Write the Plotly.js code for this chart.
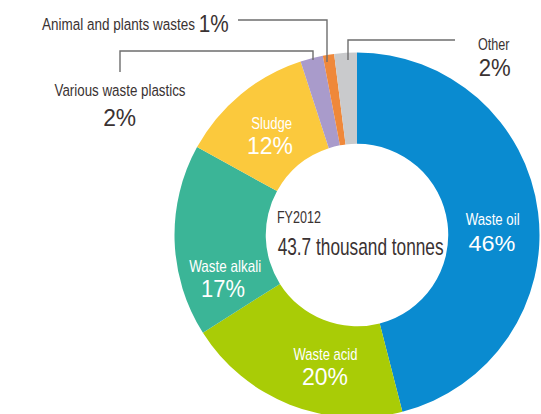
<!DOCTYPE html>
<html>
<head>
<meta charset="utf-8">
<script src="https://cdn.plot.ly/plotly-3.0.1.min.js"></script>
<style>
html,body{margin:0;padding:0;background:#fff;overflow:hidden;width:541px;height:414px;}
#chart{width:541px;height:420px;}
</style>
</head>
<body>
<div id="chart"></div>
<script>
const labels = ['Waste oil','Waste acid','Waste alkali','Sludge','Various waste plastics','Animal and plants wastes','Other'];
const values = [46,20,17,12,2,1,2];
const colors = ['#0a8bd0','#a9cc06','#3bb597','#fbc93d','#a99bcb','#ef883a','#c9cacc'];
const centerLine1 = 'FY2012';
const centerLine2 = '43.7 thousand tonnes';

const W = 541, H = 420;
const px = x => x / W;
const py = y => 1 - y / H;

const textFont = 'Liberation Sans, Arial, sans-serif';
const dark = '#3a3232';
const LBL = 16.5, PCT = 23;

const cx = 357, cy = 235, R = 182.5;

const trace = {
  type: 'pie',
  labels: labels,
  values: values,
  sort: false,
  direction: 'clockwise',
  rotation: 0,
  hole: 0.5,
  textinfo: 'none',
  hoverinfo: 'label+percent',
  marker: {colors: colors, line: {width: 0}},
  domain: {x: [px(cx - R), px(cx + R)], y: [py(cy + R), py(cy - R)]},
  showlegend: false
};

// text placement per slice (pixels): label centre + drawn width, percent centre + drawn width
const place = [
  {lx:492,   ly:219,   lw:54,  qx:491.5, qy:243.4, qw:47,   c:'#ffffff'},
  {lx:325,   ly:354,   lw:64,  qx:324.7, qy:377,   qw:46,   c:'#ffffff'},
  {lx:225,   ly:265.5, lw:72,  qx:223,   qy:289,   qw:44,   c:'#ffffff'},
  {lx:271.5, ly:123,   lw:41,  qx:270,   qy:146,   qw:46,   c:'#ffffff'},
  {lx:119.5, ly:90,    lw:131, qx:119.5, qy:118,   qw:33,   c:dark},
  {lx:118.5, ly:24,    lw:153, qx:213,   qy:24.3,  qw:30,   c:dark},
  {lx:494,   ly:44,    lw:32,  qx:494,   qy:67.5,  qw:32,   c:dark}
];

const annotations = [];
const widths = [];
function addText(text, x, y, size, color, w) {
  annotations.push({xref:'paper', yref:'paper', x:px(x), y:py(y), xanchor:'center', yanchor:'middle',
    showarrow:false, borderpad:0, text:text, font:{family:textFont, size:size, color:color}});
  widths.push(w);
}
labels.forEach((lab, i) => {
  const p = place[i];
  addText(lab, p.lx, p.ly, LBL, p.c, p.lw);
  addText(values[i] + '%', p.qx, p.qy, PCT, p.c, p.qw);
});
addText(centerLine1, 299, 217, LBL, dark, 44);
addText(centerLine2, 360, 246.5, PCT, dark, 166);

const lineStyle = {color:'#6e6e6e', width:1.4};
const path = pts => 'M ' + pts.map(p => px(p[0]) + ',' + py(p[1])).join(' L ');
const shapes = [
  {type:'path', xref:'paper', yref:'paper', path: path([[120,72],[120,51],[313,51],[313,60]]), line: lineStyle},
  {type:'path', xref:'paper', yref:'paper', path: path([[238,20],[327,20],[327,62]]), line: lineStyle},
  {type:'path', xref:'paper', yref:'paper', path: path([[455,40],[348,40],[348,60]]), line: lineStyle}
];

const layout = {
  width: W, height: H,
  margin: {l:0, r:0, t:0, b:0},
  paper_bgcolor: '#ffffff',
  plot_bgcolor: '#ffffff',
  annotations: annotations,
  shapes: shapes,
  showlegend: false
};

Plotly.newPlot('chart', [trace], layout, {displayModeBar:false, staticPlot:true}).then(gd => {
  // narrow each text horizontally about its centre, like the condensed type of the original
  gd.querySelectorAll('.annotation text.annotation-text').forEach((t, i) => {
    const w = widths[i];
    if (!w) return;
    const bb = t.getBBox();
    if (!bb.width) return;
    const s = w / bb.width;
    const c = bb.x + bb.width / 2;
    const prev = t.getAttribute('transform') || '';
    t.setAttribute('transform', prev + ' translate(' + c + ',0) scale(' + s + ',1) translate(' + (-c) + ',0)');
  });
});
</script>
</body>
</html>
